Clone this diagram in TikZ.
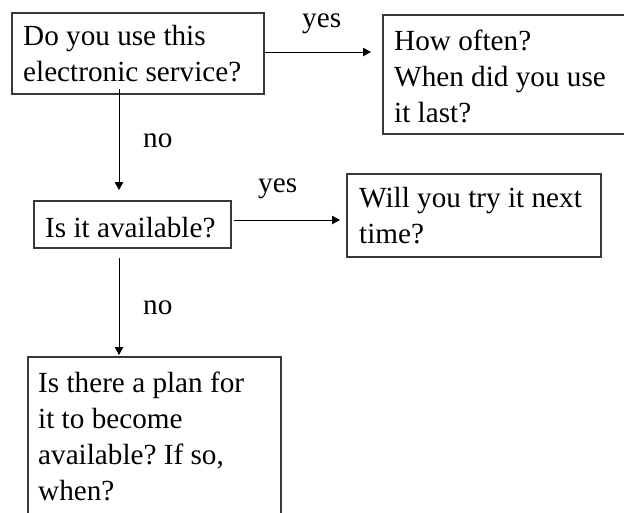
\documentclass[tikz,border=0pt]{standalone}
\usepackage{fontspec}
\setmainfont{Liberation Serif}
\usetikzlibrary{arrows.meta}

% ordinary interword spacing inside the text nodes
\newcommand{\plainspacing}{\spaceskip=0pt\xspaceskip=0pt\frenchspacing}

\tikzset{
  qbox/.style={draw=black!78, line width=1.2pt, anchor=north west,
    inner sep=0pt, outer sep=0pt},
  qtext/.style={anchor=base west, inner sep=0pt, align=flush left,
    text width=240pt, font=\fontsize{29.2}{36.3}\selectfont,
    execute at begin node=\plainspacing},
  ltext/.style={anchor=base west, inner sep=0pt,
    font=\fontsize{29.2}{36.3}\selectfont},
  arr/.style={draw=black, line width=1pt,
    -{Triangle[length=8pt,width=8.5pt]}}
}

\begin{document}
\begin{tikzpicture}[x=1pt, y=-1pt]
  \useasboundingbox (0,0) rectangle (624,512);
  \clip (0,0) rectangle (624,512);

  % question boxes
  \node[qbox, minimum width=252pt, minimum height=81pt]  (b1) at (12,13)  {};
  \node[qbox, minimum width=250pt, minimum height=119pt] (b2) at (383,15) {};
  \node[qbox, minimum width=197pt, minimum height=47pt]  (b3) at (34,201) {};
  \node[qbox, minimum width=254pt, minimum height=83pt]  (b4) at (347,174) {};
  \node[qbox, minimum width=253pt, minimum height=170pt] (b5) at (28,357) {};

  % box texts
  \node[qtext] (t1) at (23,45)   {Do you use this\\electronic service?};
  \node[qtext] (t2) at (394,50)  {How often?\\When did you use\\it last?};
  \node[qtext] (t3) at (45,237)  {Is it available?};
  \node[qtext] (t4) at (359,207) {Will you try it next\\time?};
  \node[qtext] (t5) at (38,392)  {Is there a plan for\\it to become\\available? If so,\\when?};

  % connectors
  \coordinate (s1) at ([yshift=1.5pt]b1.east);
  \draw[arr, shorten >=12pt] (s1) -- (s1 -| b2.west);
  \coordinate (s2) at ([xshift=107pt,yshift=5pt]b1.south west);
  \draw[arr, shorten >=11pt] (s2) -- (s2 |- b3.north);
  \coordinate (s3) at ([xshift=3pt,yshift=4.5pt]b3.east);
  \draw[arr, shorten >=7pt] (s3) -- (s3 -| b4.west);
  \coordinate (s4) at ([xshift=85pt,yshift=-10pt]b3.south west);
  \draw[arr, shorten >=2pt] (s4) -- (s4 |- b5.north);

  % answer labels
  \node[ltext] (y1) at (302,27)  {yes};
  \node[ltext] (n1) at (143,147) {no};
  \node[ltext] (y2) at (258,192) {yes};
  \node[ltext] (n2) at (143,314) {no};
\end{tikzpicture}
\end{document}
